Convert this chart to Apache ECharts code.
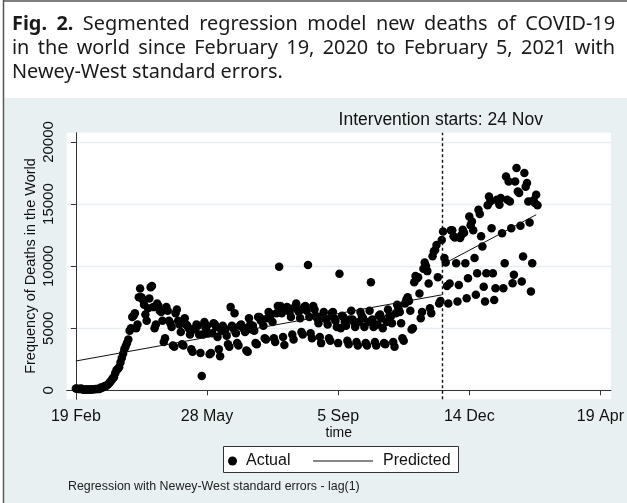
<!DOCTYPE html>
<html><head><meta charset="utf-8">
<script src="https://cdn.jsdelivr.net/npm/echarts@6/dist/echarts.min.js"></script>
<style>html,body{margin:0;padding:0;background:#fff}#c{width:627px;height:503px}</style>
</head><body><div id="c"></div>
<script>
// ---- data (x = days since 19 Feb 2020) ----
const deaths = [
 136,118,109,97,150,71,64,
 37,58,64,66,73,67,77,
 94,102,104,103,97,229,212,
 268,343,353,420,525,650,790,
 950,1050,1380,1640,1720,1850,2230,
 2600,2950,3300,3550,3800,4100,4800,
 5000,5900,6000,6200,5000,5300,7500,
 8200,7500,7300,6900,6100,5600,6600,
 7400,8300,8400,6700,5000,5300,7000,
 6800,6400,6300,5600,3900,4200,6700,
 6400,5600,5400,5100,3600,3500,6200,
 6500,5600,5300,4700,3700,3600,5800,
 5300,5200,5000,4500,3300,3100,4900,
 5000,5300,5200,4500,3000,1150,4500,
 5500,5000,5200,4600,2900,3000,4600,
 5400,5300,5100,4300,3300,2750,4800,
 5200,5000,4900,4400,3700,3500,6700,
 5200,5000,6200,4600,3800,3600,5200,
 5300,5100,5000,4700,3200,3100,5800,
 5300,4900,5200,4800,3800,3700,5900,
 5900,5600,5700,5200,4200,4100,5800,
 6300,6000,6100,5500,4200,3900,6200,
 6800,9950,6800,6200,4300,3650,6500,
 6700,6600,6300,5900,4500,4100,6700,
 7000,6500,6300,5800,4700,4500,6700,
 6800,6400,10100,5900,4600,4200,6800,
 6500,6000,5800,5400,4300,3800,6000,
 6300,5800,5700,5300,4200,4000,6200,
 6300,5800,5600,5100,3800,9380,5000,
 6000,5900,5500,5200,4000,3700,5700,
 6400,5700,5500,5100,3900,3600,5500,
 6300,6000,5800,5100,3800,3600,5500,
 6400,8700,5700,5100,3900,3600,5300,
 6000,6100,5800,5000,3800,3700,5500,
 6500,6000,5900,5400,3900,3500,6200,
 6900,6600,6300,5400,4200,4000,7000,
 7300,7500,7200,6400,4900,5000,8700,
 9200,9000,9100,7800,5800,6300,9800,
 10300,10000,9600,8600,6600,6200,10800,
 11200,11300,11700,9100,7000,7200,12100,
 12800,10650,10300,8400,7000,8600,12900,
 12900,12400,12300,10240,7150,8490,12260,
 12500,12930,12700,10240,7420,9030,14000,
 13300,13600,12900,10650,7690,9430,14540,
 14200,12400,11580,8350,7150,9430,14900,
 15610,15210,13060,9430,7280,8220,15350,
 15200,14940,15480,12660,8220,10240,17230,
 15350,16820,15210,13060,8630,9300,16820,
 17900,16020,15900,13250,8760,10770,17500,
 16400,16690,15210,13520,7950,10240,15300,
 15080,15750,14900
];
const preDays = [0, 279];
const preValues = [2360, 7690];
const postDays = [279, 351];
const postValues = [10100, 14140];
const interventionDay = 279;
const interventionLabel = 'Intervention starts: 24 Nov';
const xTickDays = [0, 100, 200, 300, 400];
const xTickLabels = ['19 Feb', '28 May', '5 Sep', '14 Dec', '19 Apr'];
const yTicks = [0, 5000, 10000, 15000, 20000];
const titleLines = [
  'Fig. 2. Segmented regression model new deaths of COVID-19',
  'in the world since February 19, 2020 to February 5, 2021 with',
  'Newey-West standard errors.'
];
const noteText = 'Regression with Newey-West standard errors - lag(1)';

// ---- build ----
const AR = '"Liberation Sans", Arial, sans-serif';
const TF = '"Noto Sans", sans-serif';
const actual = deaths.map((v, i) => [i, v]);
const pre = preDays.map((d, i) => [d, preValues[i]]);
const post = postDays.map((d, i) => [d, postValues[i]]);

const ctx = document.createElement('canvas').getContext('2d');
function tw(t, font) { ctx.font = font; return ctx.measureText(t).width; }
const titleSize = 100 * 271 / tw(titleLines[2], '100px ' + TF);
const lineY = [24, 48, 72];
const graphics = [
  { type: 'rect', shape: { x: 4.5, y: 98, width: 623, height: 406 }, style: { fill: '#e9f0f2' }, z: -10, silent: true },
  { type: 'line', shape: { x1: 3.5, y1: 0, x2: 3.5, y2: 503 }, style: { stroke: '#555', lineWidth: 1.5 }, z: -5 },
  { type: 'line', shape: { x1: 3, y1: 1, x2: 627, y2: 1 }, style: { stroke: '#555', lineWidth: 1.5 }, z: -5 },
  { type: 'rect', shape: { x: 223.5, y: 446.5, width: 235, height: 26 }, style: { fill: '#fff', stroke: '#333', lineWidth: 1 }, z: -1 },
  { type: 'text', x: 68, y: 487, style: { text: noteText, font: '12.4px ' + AR, fill: '#222', verticalAlign: 'middle' } }
];
titleLines.forEach((line, li) => {
  const words = line.split(' ');
  const fonts = words.map((w, wi) => ((li === 0 && wi < 2) ? 'bold ' : '') + titleSize.toFixed(2) + 'px ' + TF);
  const widths = words.map((w, wi) => tw(w, fonts[wi]));
  const total = widths.reduce((a, b) => a + b, 0);
  const gap = li < 2 ? (603 - total) / (words.length - 1) : tw(' ', fonts[0]);
  let x = 12;
  words.forEach((w, wi) => {
    graphics.push({ type: 'text', x: x, y: lineY[li], style: { text: w, font: fonts[wi], fill: '#1a1a1a', verticalAlign: 'middle' } });
    x += widths[wi] + gap;
  });
});

const chart = echarts.init(document.getElementById('c'));
chart.setOption({
  backgroundColor: '#fff',
  animation: false,
  grid: { left: 66.7, right: 10.3, top: 132.7, bottom: 103.7, show: true, backgroundColor: '#fff', borderWidth: 0, containLabel: false },
  xAxis: {
    type: 'value', min: -7, max: 408,
    name: 'time', nameLocation: 'middle', nameGap: 26.5, nameMoveOverlap: false,
    nameTextStyle: { fontFamily: AR, fontSize: 14, color: '#111' },
    axisLine: { lineStyle: { color: '#333', width: 1 } },
    axisTick: { customValues: xTickDays, length: 5, lineStyle: { color: '#333' } },
    axisLabel: { customValues: xTickDays, formatter: v => xTickLabels[xTickDays.indexOf(v)], fontFamily: AR, fontSize: 16, color: '#111', margin: 9 },
    splitLine: { show: false }
  },
  yAxis: {
    type: 'value', min: -725, max: 20750,
    name: 'Frequency of Deaths in the World', nameLocation: 'middle', nameGap: 28, nameRotate: 90, nameMoveOverlap: false,
    nameTextStyle: { fontFamily: AR, fontSize: 14.5, color: '#111' },
    axisLine: { show: true, lineStyle: { color: '#333', width: 1 } },
    axisTick: { show: true, customValues: yTicks, length: 5, lineStyle: { color: '#333' } },
    axisLabel: { customValues: yTicks, formatter: v => String(v), rotate: 90, fontFamily: AR, fontSize: 15, color: '#111', margin: 10 },
    splitLine: { show: true, lineStyle: { color: '#e6eff1', width: 1.3 } }
  },
  legend: [
    { data: [{ name: 'Actual', icon: 'circle' }], left: 223, top: 448, itemWidth: 9, itemHeight: 9, z: 10,
      textStyle: { fontFamily: AR, fontSize: 16, color: '#111', padding: [0, 0, 0, 4] } },
    { data: [{ name: 'Predicted', icon: 'rect' }], left: 308, top: 448, itemWidth: 60, itemHeight: 1.2, z: 10,
      textStyle: { fontFamily: AR, fontSize: 16, color: '#111', padding: [0, 0, 0, 5] } }
  ],
  series: [
    { name: 'Actual', type: 'scatter', data: actual, symbolSize: 8.5, itemStyle: { color: '#000', opacity: 1 }, z: 3,
      markLine: { silent: true, symbol: 'none', animation: false,
        lineStyle: { color: '#111', type: [3, 2.5], width: 1.4 },
        label: { show: true, position: 'end', formatter: interventionLabel, fontFamily: AR, fontSize: 17.5, color: '#111', padding: [0, 2, 0, 0], distance: 4 },
        data: [{ xAxis: interventionDay }] } },
    { name: 'Predicted', type: 'line', data: pre, showSymbol: false, lineStyle: { color: '#111', width: 1 }, itemStyle: { color: '#111' }, z: 4 },
    { name: 'Predicted', type: 'line', data: post, showSymbol: false, lineStyle: { color: '#111', width: 1 }, itemStyle: { color: '#111' }, z: 4 }
  ],
  graphic: graphics
});
</script></body></html>
